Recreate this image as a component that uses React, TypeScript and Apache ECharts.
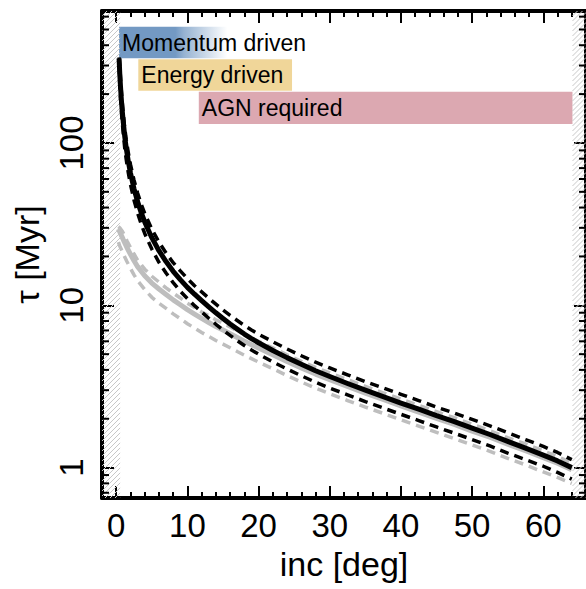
import React, { useEffect, useRef } from "react";
import * as echarts from "echarts";

// ---- data ----
const incBlack = [0.4, 0.5, 0.6, 0.7, 0.8, 0.9, 1.0, 1.2, 1.4, 1.7, 2, 2.5, 3, 3.5, 4, 5, 6, 7, 8, 9, 10, 11, 12, 13, 14, 15, 16, 17, 18, 19, 20, 22, 24, 26, 28, 30, 32.5, 35, 37.5, 40, 42.5, 45, 47.5, 50, 52.5, 55, 57.5, 60, 62, 64];
const tauBlack = [332, 266, 222, 190, 166, 148, 133, 108.8, 93.3, 76.8, 65.3, 52.2, 43.5, 37.3, 32.6, 26.1, 21.7, 18.6, 16.2, 14.4, 12.9, 11.7, 10.7, 9.79, 8.99, 8.29, 7.67, 7.13, 6.65, 6.24, 5.88, 5.27, 4.76, 4.33, 3.95, 3.64, 3.3, 3.0, 2.74, 2.5, 2.29, 2.09, 1.92, 1.75, 1.6, 1.45, 1.32, 1.195, 1.1, 1.0];
const tauBlackHi = [337, 300, 251, 215, 188, 167, 150, 123, 105, 86.8, 73.8, 59, 49.2, 42.1, 36.8, 29.5, 24.5, 21.0, 18.3, 16.3, 14.6, 13.2, 12.1, 11.06, 10.16, 9.37, 8.67, 8.06, 7.51, 7.05, 6.64, 5.96, 5.38, 4.89, 4.46, 4.11, 3.73, 3.39, 3.1, 2.83, 2.59, 2.36, 2.17, 1.98, 1.81, 1.64, 1.49, 1.35, 1.24, 1.12];
const tauBlackLo = [300, 226, 189, 161.5, 141, 126, 113, 92.5, 79.3, 65.3, 55.5, 44.4, 37, 31.7, 27.7, 22.2, 18.4, 15.8, 13.8, 12.2, 11.0, 9.95, 9.1, 8.32, 7.64, 7.05, 6.52, 6.06, 5.65, 5.3, 5.0, 4.48, 4.05, 3.68, 3.36, 3.09, 2.81, 2.55, 2.33, 2.13, 1.95, 1.78, 1.63, 1.49, 1.36, 1.23, 1.12, 1.02, 0.935, 0.85];

const incGray = [0.3, 0.5, 0.8, 1.0, 1.5, 2, 2.5, 3, 4, 5, 6, 7, 8, 9, 10, 11, 12, 13, 14, 15, 16, 17, 18, 19, 20, 22, 24, 26, 28, 30, 32.5, 35, 37.5, 40, 42.5, 45, 47.5, 50, 52.5, 55, 57.5, 60, 62, 64];
const tauGray = [29.5, 28.3, 26.5, 25.3, 22.7, 20.6, 18.8, 17.3, 15.2, 13.7, 12.6, 11.67, 10.8, 10.08, 9.4, 8.83, 8.3, 7.84, 7.4, 7.04, 6.68, 6.33, 6.01, 5.72, 5.45, 4.96, 4.5, 4.11, 3.77, 3.48, 3.16, 2.88, 2.63, 2.4, 2.2, 2.01, 1.845, 1.68, 1.54, 1.395, 1.27, 1.15, 1.065, 0.97];
const tauGrayHi = [30.5, 30, 28.8, 27.8, 25, 22.7, 20.7, 19, 16.7, 15.1, 13.9, 12.8, 11.9, 11.1, 10.3, 9.7, 9.1, 8.62, 8.14, 7.74, 7.35, 6.96, 6.61, 6.29, 6.0, 5.46, 4.95, 4.52, 4.15, 3.83, 3.48, 3.17, 2.89, 2.64, 2.42, 2.21, 2.03, 1.85, 1.69, 1.53, 1.4, 1.27, 1.17, 1.07];
const tauGrayLo = [24.5, 23.2, 21.7, 20.7, 18.6, 16.9, 15.4, 14.2, 12.5, 11.2, 10.3, 9.57, 8.86, 8.27, 7.7, 7.24, 6.8, 6.43, 6.07, 5.77, 5.48, 5.19, 4.93, 4.69, 4.47, 4.07, 3.69, 3.37, 3.09, 2.85, 2.59, 2.36, 2.16, 1.97, 1.8, 1.65, 1.51, 1.38, 1.26, 1.14, 1.04, 0.94, 0.87, 0.8];

const bandNames = ["Momentum driven", "Energy driven", "AGN required"];
const bandInc = [[0.4, 15.6], [3.1, 24.7], [11.6, 64.1]];
const bandTau = [[332, 520], [210, 328], [131, 207]];

const hatchInc = [[-2, 0.55], [64.1, 66]];

const xRange = [-2, 66];
const yRange = [0.65, 650];
const xMajor = [0, 10, 20, 30, 40, 50, 60];
const xMinor = [2, 4, 6, 8, 12, 14, 16, 18, 22, 24, 26, 28, 32, 34, 36, 38, 42, 44, 46, 48, 52, 54, 56, 58, 62, 64];
const yMajor = [1, 10, 100];
const yMinor = [0.7, 0.8, 0.9, 2, 3, 4, 5, 6, 7, 8, 9, 20, 30, 40, 50, 60, 70, 80, 90, 200, 300, 400, 500, 600];

const FONT = "'Liberation Sans', Arial, Helvetica, sans-serif";

function pairs(xs: number[], ys: number[]) {
  return xs.map((x, i) => [x, ys[i]]);
}

export default function App() {
  const ref = useRef<HTMLDivElement>(null);
  useEffect(() => {
    if (!ref.current) return;
    const chart = echarts.init(ref.current, undefined, { renderer: "svg" });

    const tickStyle = { color: "#000", width: 2 };
    const xBase = { type: "value", min: xRange[0], max: xRange[1], gridIndex: 0, splitLine: { show: false } };
    const yBase = { type: "log", logBase: 10, min: yRange[0], max: yRange[1], gridIndex: 0, splitLine: { show: false } };
    const axisLineOn = { show: true, onZero: false, lineStyle: { color: "#000", width: 4 } };

    const xAxis = [
      {
        ...xBase, position: "bottom", axisLine: axisLineOn,
        axisTick: { show: true, inside: true, length: 12, lineStyle: tickStyle, customValues: xMajor },
        axisLabel: { show: true, customValues: xMajor, fontSize: 33, color: "#000", fontFamily: FONT, margin: 11 },
        name: "inc [deg]", nameLocation: "middle", nameGap: 49,
        nameTextStyle: { fontSize: 34, color: "#000", fontFamily: FONT },
      },
      { ...xBase, position: "bottom", axisLine: { show: false }, axisTick: { show: true, inside: true, length: 6, lineStyle: tickStyle, customValues: xMinor }, axisLabel: { show: false } },
      { ...xBase, position: "top", axisLine: axisLineOn, axisTick: { show: true, inside: true, length: 12, lineStyle: tickStyle, customValues: xMajor }, axisLabel: { show: false } },
      { ...xBase, position: "top", axisLine: { show: false }, axisTick: { show: true, inside: true, length: 6, lineStyle: tickStyle, customValues: xMinor }, axisLabel: { show: false } },
    ];
    const yAxis = [
      {
        ...yBase, position: "left", axisLine: axisLineOn,
        axisTick: { show: true, inside: true, length: 12, lineStyle: tickStyle, customValues: yMajor },
        axisLabel: { show: true, customValues: yMajor, rotate: 90, fontSize: 33, color: "#000", fontFamily: FONT, margin: 14 },
        name: "τ [Myr]", nameLocation: "middle", nameGap: 58, nameRotate: 90,
        nameTextStyle: { fontSize: 34, color: "#000", fontFamily: FONT },
      },
      {
        ...yBase, position: "right", axisLine: axisLineOn,
        axisTick: { show: true, inside: true, length: 12, lineStyle: tickStyle, customValues: yMajor },
        axisLabel: { show: false },
      },
    ];

    const blue = "#7399C3";
    const bandColors = [
      new echarts.graphic.LinearGradient(0, 0, 1, 0, [
        { offset: 0, color: blue },
        { offset: 0.52, color: blue },
        { offset: 0.6, color: "rgba(115,153,195,0.75)" },
        { offset: 1, color: "rgba(115,153,195,0)" },
      ]),
      "#F0D699",
      "#DCA8B1",
    ];
    const markData = bandNames.map((n, i) => [
      { name: n, xAxis: bandInc[i][0], yAxis: bandTau[i][1], itemStyle: { color: bandColors[i], opacity: 1 } },
      { xAxis: bandInc[i][1], yAxis: bandTau[i][0] },
    ]);

    const hatchSeries = {
      type: "custom",
      xAxisIndex: 0, yAxisIndex: 0,
      silent: true,
      z: 1,
      data: hatchInc,
      clip: false,
      renderItem: (params: any, api: any) => {
        const p0 = api.coord([api.value(0), yRange[1]]);
        const p1 = api.coord([api.value(1), yRange[0]]);
        const x0 = p0[0], y0 = p0[1], x1 = p1[0], y1 = p1[1];
        const children: any[] = [];
        const step = 5;
        for (let c = x0 + y0; c <= x1 + y1; c += step) {
          const xa = Math.max(x0, c - y1);
          const xb = Math.min(x1, c - y0);
          if (xb <= xa) continue;
          children.push({
            type: "line",
            shape: { x1: xa, y1: c - xa, x2: xb, y2: c - xb },
            style: { stroke: "#C8C8C8", lineWidth: 1 },
          });
        }
        return { type: "group", children };
      },
    };

    // minor ticks of the log axis, placed through the axis scale
    const yMinorTickSeries = {
      type: "custom",
      xAxisIndex: 0, yAxisIndex: 0,
      silent: true,
      z: 10,
      clip: false,
      data: yMinor.map((v) => [v]),
      renderItem: (params: any, api: any) => {
        const v = api.value(0);
        const pl = api.coord([xRange[0], v]);
        const pr = api.coord([xRange[1], v]);
        const len = 7;
        return {
          type: "group",
          children: [
            { type: "line", shape: { x1: pl[0], y1: pl[1], x2: pl[0] + len, y2: pl[1] }, style: { stroke: "#000", lineWidth: 2 } },
            { type: "line", shape: { x1: pr[0], y1: pr[1], x2: pr[0] - len, y2: pr[1] }, style: { stroke: "#000", lineWidth: 2 } },
          ],
        };
      },
    };

    const line = (data: number[][], color: string, width: number, dashed: boolean, z: number, extra: any = {}) => ({
      type: "line",
      xAxisIndex: 0, yAxisIndex: 0,
      data,
      showSymbol: false,
      symbol: "none",
      z,
      lineStyle: { color, width, type: dashed ? [9, 6] : "solid", cap: "butt", join: "round" },
      silent: true,
      ...extra,
    });

    chart.setOption({
      animation: false,
      grid: { left: 102, top: 11, width: 484, height: 487, containLabel: false },
      xAxis,
      yAxis,
      series: [
        hatchSeries,
        line(pairs(incGray, tauGray), "#BEBEBE", 5, false, 2, {
          markArea: {
            silent: true,
            z: 1,
            label: { show: true, position: "insideLeft", distance: 3, fontSize: 23, color: "#000", fontFamily: FONT },
            data: markData,
          },
        }),
        line(pairs(incGray, tauGrayHi), "#BEBEBE", 3.5, true, 2),
        line(pairs(incGray, tauGrayLo), "#BEBEBE", 3.5, true, 2),
        line(pairs(incBlack, tauBlackHi), "#000", 3.5, true, 3),
        line(pairs(incBlack, tauBlackLo), "#000", 3.5, true, 3),
        line(pairs(incBlack, tauBlack), "#000", 5, false, 4),
        yMinorTickSeries,
      ],
    });
    return () => chart.dispose();
  }, []);
  return <div ref={ref} style={{ position: "fixed", left: 0, top: 0, width: 586, height: 589, background: "#fff" }} />;
}
